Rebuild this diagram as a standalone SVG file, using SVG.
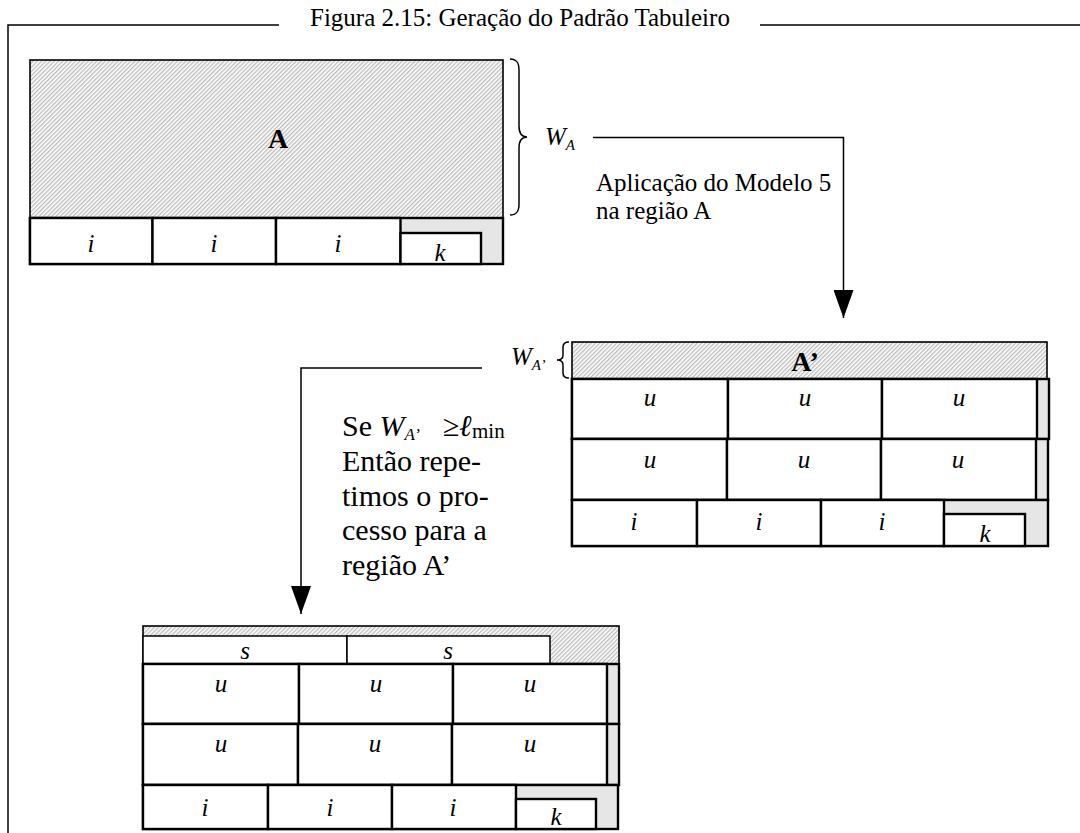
<svg xmlns="http://www.w3.org/2000/svg" width="1080" height="833" viewBox="0 0 1080 833" font-family="'Liberation Serif','Times New Roman',serif">
<style>
text{font-family:"Liberation Serif","Times New Roman",serif;fill:#000}
.t25{font-size:25px}
.t30{font-size:30px}
.it{font-style:italic;font-size:25px;text-anchor:middle}
.bold{font-weight:bold;font-size:28px;text-anchor:middle}
.hatch{fill:url(#hatch);stroke:#000;stroke-width:1.6}
.gray{fill:#e6e6e6;stroke:#000;stroke-width:2.4}
.cell{fill:#fff;stroke:#000;stroke-width:2.4}
.thin{fill:#fff;stroke:#000;stroke-width:1.5}
.line{fill:none;stroke:#000;stroke-width:1.5}
</style>
<defs>
<pattern id="hatch" patternUnits="userSpaceOnUse" width="3" height="3" patternTransform="rotate(45)">
<rect width="3" height="3" fill="#fff"/>
<line x1="0.75" y1="0" x2="0.75" y2="3" stroke="#a3a3a3" stroke-width="1"/>
</pattern>
<marker id="arrow" markerUnits="userSpaceOnUse" viewBox="0 0 28 20" refX="28" refY="10" markerWidth="28" markerHeight="20" orient="auto">
<path d="M0,0 L28,10 L0,20 Z" fill="#000"/>
</marker>
</defs>
<rect width="1080" height="833" fill="#fff"/>

<g id="frame">
<path class="line" d="M279,25 H8 V833"/>
<path class="line" d="M760,25 H1080"/>
<text class="t25" x="310" y="26">Figura 2.15: Geração do Padrão Tabuleiro</text>
</g>

<g id="fig1">
<rect class="hatch" x="30" y="60" width="473" height="158"/>
<text class="bold" x="278" y="148">A</text>
<rect class="gray" x="30" y="218" width="473" height="46"/>
<rect class="cell" x="30" y="218" width="122.5" height="46"/>
<rect class="cell" x="152.5" y="218" width="123.5" height="46"/>
<rect class="cell" x="276" y="218" width="124.5" height="46"/>
<rect class="cell" x="400.5" y="233" width="80.5" height="31"/>
<text class="it" x="91" y="252">i</text>
<text class="it" x="214" y="252">i</text>
<text class="it" x="338" y="252">i</text>
<text class="it" x="440" y="261">k</text>
<path class="line" d="M510,59 C517,59 519,63 519,70 L519,126 C519,133 521,137 527,137 C521,137 519,141 519,148 L519,204 C519,211 517,215 510,215"/>
<text class="t25" x="545" y="145" font-style="italic">W<tspan font-size="15" dy="5">A</tspan></text>
</g>

<g id="fig2">
<rect class="hatch" x="572" y="342" width="475" height="37"/>
<text class="bold" x="805" y="371">A’</text>
<path class="line" d="M569,342 C564,342 563,344 563,347 L563,355 C563,358 562,360 557,360 C562,360 563,362 563,365 L563,373 C563,376 564,378 569,378"/>
<text class="t25" x="511" y="365" font-style="italic">W<tspan font-size="15" dy="5">A’</tspan></text>
<rect class="gray" x="572" y="379" width="477" height="60"/>
<rect class="cell" x="572" y="379" width="156" height="60"/>
<rect class="cell" x="728" y="379" width="154" height="60"/>
<rect class="cell" x="882" y="379" width="155" height="60"/>
<rect class="gray" x="572" y="439" width="476" height="61"/>
<rect class="cell" x="572" y="439" width="155" height="61"/>
<rect class="cell" x="727" y="439" width="154" height="61"/>
<rect class="cell" x="881" y="439" width="155" height="61"/>
<rect class="gray" x="572" y="500" width="476" height="46"/>
<rect class="cell" x="572" y="500" width="125" height="46"/>
<rect class="cell" x="697" y="500" width="124" height="46"/>
<rect class="cell" x="821" y="500" width="123" height="46"/>
<rect class="cell" x="944" y="514" width="81" height="32"/>
<text class="it" x="650" y="406">u</text>
<text class="it" x="805" y="406">u</text>
<text class="it" x="959" y="406">u</text>
<text class="it" x="650" y="468">u</text>
<text class="it" x="804" y="468">u</text>
<text class="it" x="958" y="468">u</text>
<text class="it" x="634" y="530">i</text>
<text class="it" x="759" y="530">i</text>
<text class="it" x="882" y="530">i</text>
<text class="it" x="985" y="542">k</text>
</g>

<g id="fig3">
<rect class="hatch" x="143" y="626" width="476" height="38"/>
<rect class="thin" x="143" y="636" width="204" height="28"/>
<rect class="thin" x="347" y="636" width="203" height="28"/>
<text class="it" x="245" y="659">s</text>
<text class="it" x="448" y="659">s</text>
<rect class="gray" x="143" y="664" width="476" height="60"/>
<rect class="cell" x="143" y="664" width="156" height="60"/>
<rect class="cell" x="299" y="664" width="154" height="60"/>
<rect class="cell" x="453" y="664" width="154" height="60"/>
<rect class="gray" x="143" y="724" width="476" height="61"/>
<rect class="cell" x="143" y="724" width="155" height="61"/>
<rect class="cell" x="298" y="724" width="154" height="61"/>
<rect class="cell" x="452" y="724" width="155" height="61"/>
<rect class="gray" x="143" y="785" width="475" height="44"/>
<rect class="cell" x="143" y="785" width="125" height="44"/>
<rect class="cell" x="268" y="785" width="124" height="44"/>
<rect class="cell" x="392" y="785" width="124" height="44"/>
<rect class="cell" x="516" y="799" width="80" height="30"/>
<text class="it" x="221" y="692">u</text>
<text class="it" x="376" y="692">u</text>
<text class="it" x="530" y="692">u</text>
<text class="it" x="221" y="752">u</text>
<text class="it" x="375" y="752">u</text>
<text class="it" x="530" y="752">u</text>
<text class="it" x="205" y="816">i</text>
<text class="it" x="330" y="816">i</text>
<text class="it" x="453" y="816">i</text>
<text class="it" x="556" y="825">k</text>
</g>

<g id="connectors">
<path class="line" d="M593,137.5 H843.5 V318" marker-end="url(#arrow)"/>
<path class="line" d="M482,368 H301 V614" marker-end="url(#arrow)"/>
</g>

<g id="labels">
<text class="t25" x="596" y="191">Aplicação do Modelo 5</text>
<text class="t25" x="596" y="219">na região A</text>
<text class="t30" x="342" y="436">Se <tspan font-style="italic">W</tspan><tspan font-style="italic" font-size="17" dy="4">A’</tspan><tspan x="443" dy="-4">≥</tspan><tspan x="459" font-style="italic">ℓ</tspan><tspan x="472" font-size="21" dy="2">min</tspan></text>
<text class="t30" x="342" y="471">Então repe-</text>
<text class="t30" x="342" y="505.5">timos o pro-</text>
<text class="t30" x="342" y="540">cesso para a</text>
<text class="t30" x="342" y="574.5">região A’</text>
</g>
</svg>
